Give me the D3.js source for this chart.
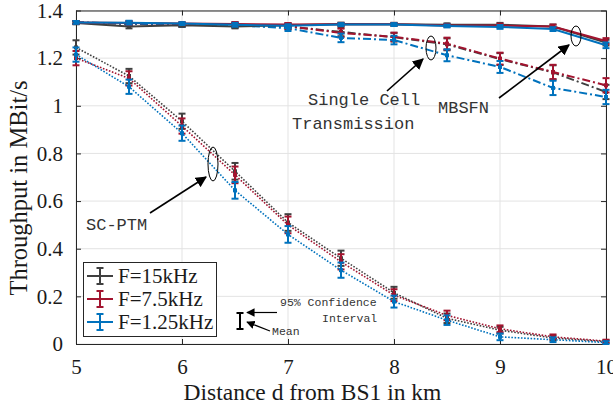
<!DOCTYPE html>
<html><head><meta charset="utf-8">
<script src="https://cdn.jsdelivr.net/npm/d3@7"></script>
<style>body{margin:0;background:#fff}svg{display:block}</style>
</head><body>
<svg id="c" width="613" height="409"></svg>
<script>
const distances = [5,5.5,6,6.5,7,7.5,8,8.5,9,9.5,10];
const xTicks = [5,6,7,8,9,10];
const yTicks = [0,0.2,0.4,0.6,0.8,1,1.2,1.4];
const seriesNames = ["F=15kHz","F=7.5kHz","F=1.25kHz"];
const seriesColors = ["#404040","#A2142F","#0072BD"];

// MBSFN (solid)
const mbsfn15  = [1.348,1.333,1.338,1.333,1.338,1.343,1.342,1.340,1.340,1.333,1.265];
const mbsfn75  = [1.350,1.348,1.345,1.343,1.341,1.342,1.342,1.337,1.337,1.333,1.272];
const mbsfn125 = [1.350,1.349,1.345,1.340,1.336,1.341,1.341,1.335,1.331,1.322,1.254];
const mbsfnErr = [0.006,0.008,0.006,0.008,0.006,0.006,0.006,0.006,0.008,0.008,0.012];
// Single cell transmission (dash-dot)
const sct15  = [1.349,1.344,1.340,1.339,1.333,1.310,1.288,1.258,1.196,1.140,1.058];
const sct75  = [1.350,1.345,1.341,1.340,1.334,1.306,1.289,1.261,1.198,1.142,1.086];
const sct125 = [1.350,1.345,1.340,1.338,1.326,1.285,1.276,1.212,1.163,1.075,1.037];
const sctErr = [0.005,0.008,0.008,0.010,0.012,0.018,0.018,0.025,0.025,0.030,0.030];
// SC-PTM (dotted)
const ptm15  = [1.245,1.125,0.935,0.725,0.510,0.360,0.215,0.108,0.058,0.025,0.010];
const ptm75  = [1.200,1.115,0.915,0.710,0.500,0.345,0.205,0.120,0.064,0.030,0.012];
const ptm125 = [1.215,1.080,0.885,0.645,0.460,0.310,0.178,0.100,0.030,0.018,0.006];
const ptmErr = [0.030,0.030,0.032,0.035,0.035,0.032,0.025,0.020,0.014,0.010,0.006];

const svg = d3.select("#c");
const L=76, R=606, T=10.5, B=344;
const x = d3.scaleLinear().domain([5,10]).range([L,R]);
const y = d3.scaleLinear().domain([0,1.4]).range([B,T]);
const serif = "'Liberation Serif','Times New Roman',serif";

// grid
const g = svg.append("g");
g.selectAll(".gx").data(xTicks).join("line").attr("x1",d=>x(d)).attr("x2",d=>x(d)).attr("y1",T).attr("y2",B)
  .attr("stroke","#e3e3e3").attr("stroke-width",1);
g.selectAll(".gy").data(yTicks).join("line").attr("y1",d=>y(d)).attr("y2",d=>y(d)).attr("x1",L).attr("x2",R)
  .attr("stroke","#e3e3e3").attr("stroke-width",1);

// axes
const axCol="#262626";
function styleAxis(sel){ sel.select(".domain").attr("stroke",axCol).attr("stroke-width",1);
  sel.selectAll(".tick line").attr("stroke",axCol);
  sel.selectAll("text").attr("fill","#1a1a1a").attr("font-family",serif).attr("font-size","21px"); }
const fmt = d=> d3.format("~g")(d);
svg.append("g").attr("transform",`translate(0,${B})`).call(d3.axisBottom(x).tickValues(xTicks).tickFormat(fmt).tickSizeInner(-5).tickSizeOuter(0).tickPadding(15)).call(styleAxis);
svg.append("g").attr("transform",`translate(${L},0)`).call(d3.axisLeft(y).tickValues(yTicks).tickFormat(fmt).tickSizeInner(-5).tickSizeOuter(0).tickPadding(13)).call(styleAxis);
svg.append("g").attr("transform",`translate(0,${T})`).call(d3.axisTop(x).tickValues(xTicks).tickFormat("").tickSizeInner(-5).tickSizeOuter(0)).call(styleAxis);
svg.append("g").attr("transform",`translate(${R},0)`).call(d3.axisRight(y).tickValues(yTicks).tickFormat("").tickSizeInner(-5).tickSizeOuter(0)).call(styleAxis);

// series
const groups = [
  {vals:[ptm15,ptm75,ptm125], err:ptmErr, dash:"1.6,1.6", w:1.6},
  {vals:[sct15,sct75,sct125], err:sctErr, dash:"8,3,2,3", w:2},
  {vals:[mbsfn15,mbsfn75,mbsfn125], err:mbsfnErr, dash:null, w:2}
];
const line = d3.line().x(d=>x(d[0])).y(d=>y(d[1]));
const plot = svg.append("g");
groups.forEach(grp=>{
  grp.vals.forEach((vals,i)=>{
    const pts = distances.map((d,j)=>[d,vals[j],grp.err[j]]);
    const col = seriesColors[i];
    plot.append("path").datum(pts).attr("d",line).attr("fill","none").attr("stroke",col)
      .attr("stroke-width",grp.w).attr("stroke-dasharray",grp.dash);
    const eb = plot.append("g").attr("stroke",col).attr("stroke-width",2);
    pts.forEach(p=>{
      const cx=x(p[0]), y1=y(p[1]+p[2]), y2=y(Math.max(0,p[1]-p[2]));
      eb.append("line").attr("x1",cx).attr("x2",cx).attr("y1",y1).attr("y2",y2);
      eb.append("line").attr("x1",cx-3.5).attr("x2",cx+3.5).attr("y1",y1).attr("y2",y1);
      eb.append("line").attr("x1",cx-3.5).attr("x2",cx+3.5).attr("y1",y2).attr("y2",y2);
      eb.append("rect").attr("x",cx-2).attr("y",y(p[1])-2).attr("width",4).attr("height",4).attr("fill",col).attr("stroke","none");
    });
  });
});

// annotations
const mono="'Liberation Mono','Courier New',monospace";
const ann = svg.append("g");
svg.append("defs").append("marker").attr("id","ah").attr("viewBox","0 0 10 10").attr("refX",9).attr("refY",5)
  .attr("markerWidth",7).attr("markerHeight",7).attr("orient","auto")
  .append("path").attr("d","M0,0 L10,5 L0,10 z").attr("fill","#000");
function arrow(x1,y1,x2,y2,w){ ann.append("line").attr("x1",x1).attr("y1",y1).attr("x2",x2).attr("y2",y2)
  .attr("stroke","#000").attr("stroke-width",w||1.6).attr("marker-end","url(#ah)"); }
function ell(cx,cy,rx,ry){ ann.append("ellipse").attr("cx",cx).attr("cy",cy).attr("rx",rx).attr("ry",ry)
  .attr("fill","none").attr("stroke","#000").attr("stroke-width",1); }
function txt(t,xx,yy,fs){ ann.append("text").attr("x",xx).attr("y",yy).text(t).attr("font-family",mono)
  .attr("font-size",fs).attr("fill","#333"); }

ell(431,48,5,12); arrow(387,91,423,59);
txt("Single Cell",308,105,17); txt("Transmission",292,129,17);
ell(576,36,5,10); arrow(499,98,569,45);
txt("MBSFN",438,113,17);
ell(213,164,5,17); arrow(150,213,206,177);
txt("SC-PTM",86,230,17);

// mean / CI example
const ex=240;
const eg = ann.append("g").attr("stroke","#000").attr("stroke-width",2);
eg.append("line").attr("x1",ex).attr("x2",ex).attr("y1",313).attr("y2",329);
eg.append("line").attr("x1",ex-3.5).attr("x2",ex+3.5).attr("y1",313).attr("y2",313);
eg.append("line").attr("x1",ex-3.5).attr("x2",ex+3.5).attr("y1",329).attr("y2",329);
arrow(277,312.5,247,312.5,1.2);
arrow(270,331,247,322,1.2);
txt("95% Confidence",280,306,11.5); txt("Interval",322,322,11.5); txt("Mean",272,335,11.5);

// legend
const lg = svg.append("g");
lg.append("rect").attr("x",83.5).attr("y",262.5).attr("width",133).attr("height",74)
  .attr("fill","#fff").attr("stroke","#262626").attr("stroke-width",1);
seriesNames.forEach((n,i)=>{
  const yy = 276 + i*23, col=seriesColors[i];
  const e = lg.append("g").attr("stroke",col).attr("stroke-width",2);
  e.append("line").attr("x1",87).attr("x2",113).attr("y1",yy).attr("y2",yy);
  e.append("line").attr("x1",100).attr("x2",100).attr("y1",yy-8).attr("y2",yy+8);
  e.append("line").attr("x1",96.5).attr("x2",103.5).attr("y1",yy-8).attr("y2",yy-8);
  e.append("line").attr("x1",96.5).attr("x2",103.5).attr("y1",yy+8).attr("y2",yy+8);
  lg.append("text").attr("x",118).attr("y",yy+7).text(n).attr("font-family",serif)
    .attr("font-size",21).attr("fill","#1a1a1a");
});

// axis labels
svg.append("text").attr("x",312.5).attr("y",400).attr("text-anchor","middle").text("Distance d from BS1 in km")
  .attr("font-family",serif).attr("font-size",23.5).attr("fill","#1a1a1a");
svg.append("text").attr("transform","translate(27,188) rotate(-90)").attr("text-anchor","middle").text("Throughput in MBit/s")
  .attr("font-family",serif).attr("font-size",24.5).attr("fill","#1a1a1a");
</script>
</body></html>
